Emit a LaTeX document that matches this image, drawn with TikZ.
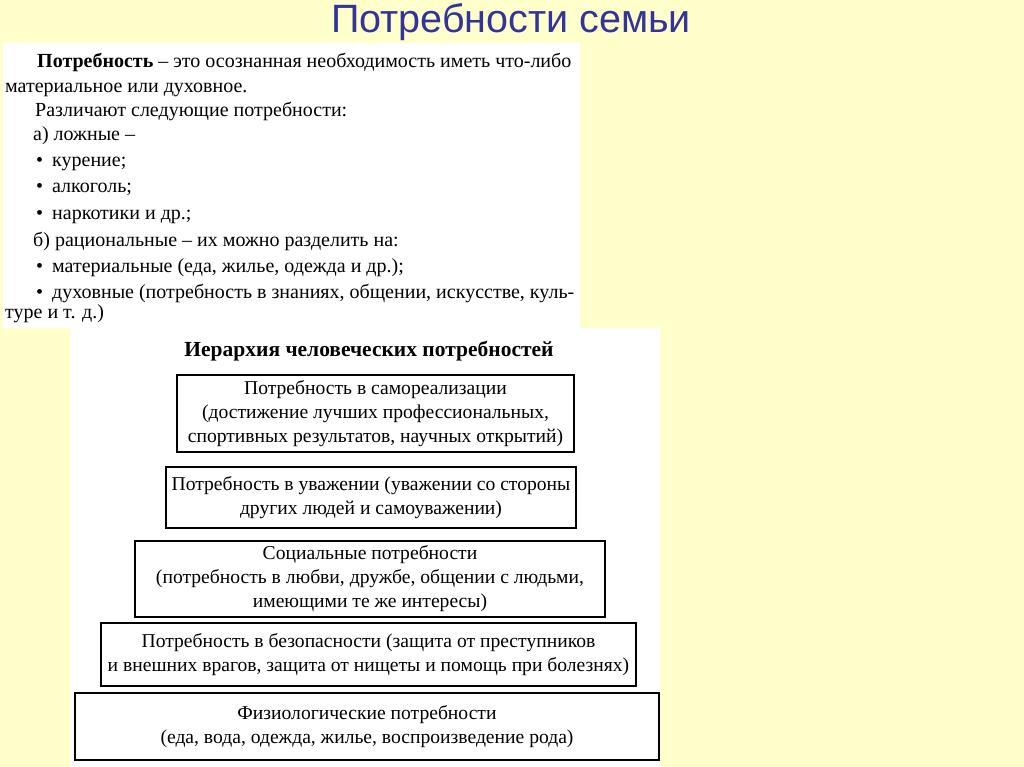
\documentclass[tikz,border=0pt]{standalone}
\usepackage{fontspec}
\setmainfont{Liberation Serif}
\newfontfamily\titlefont{Liberation Sans}
\usetikzlibrary{positioning}
\definecolor{slidebg}{HTML}{FFFFCC}
\definecolor{titleblue}{HTML}{333399}
\tikzstyle{txtline} = [anchor=base west, inner sep=0pt, font=\fontsize{20}{23}\selectfont]
\tikzstyle{needbox} = [draw=black, line width=1.5pt, align=center, inner sep=0pt, font=\fontsize{19.6}{24}\selectfont]
\newcommand{\bul}{\textbullet\hspace{9pt}}

\begin{document}
\begin{tikzpicture}[x=1pt,y=-1pt]
        \fill[slidebg] (0,0) rectangle (1024,767);
        \useasboundingbox (0,0) rectangle (1024,767);
        \node[font=\titlefont\fontsize{39.5}{42}\selectfont, text=titleblue] (title) at (511,22) {Потребности семьи};

        % definition panel
        \fill[white] (3,43) rectangle (580,328);
        \node[txtline] (def1) at (37,68) {\textbf{Потребность} – это осознанная необходимость иметь что-либо};
        \node[txtline] (def2) at (5,93) {материальное или духовное.};
        \node[txtline] (kinds) at (35,117) {Различают следующие потребности:};
        \node[txtline] (falsek) at (33,141) {а) ложные –};
        \node[txtline] (smoke) at (36,167) {\bul курение;};
        \node[txtline] (alco) at (36,193) {\bul алкоголь;};
        \node[txtline] (drugs) at (36,219) {\bul наркотики и др.;};
        \node[txtline] (ratio) at (33,246) {б) рациональные – их можно разделить на:};
        \node[txtline] (mater) at (36,272) {\bul материальные (еда, жилье, одежда и др.);};
        \node[txtline] (spirit) at (36,298) {\bul духовные (потребность в знаниях, общении, искусстве, куль-};
        \node[txtline] (spirit2) at (5,318) {туре и т. д.)};

        % hierarchy panel
        \fill[white] (70,328) rectangle (660,767);
        \node[font=\bfseries\fontsize{21.5}{24}\selectfont] (hier) at (369,351) {Иерархия человеческих потребностей};
        \node[needbox, minimum width=397pt, minimum height=77pt] (selfreal) at (375.5,413.5)
            {Потребность в самореализации\\(достижение лучших профессиональных,\\спортивных результатов, научных открытий)};
        \node[needbox, minimum width=410pt, minimum height=61pt] (respect) at (371,497.5)
            {Потребность в уважении (уважении со стороны\\других людей и самоуважении)};
        \node[needbox, minimum width=470pt, minimum height=76pt] (social) at (370,579)
            {Социальные потребности\\(потребность в любви, дружбе, общении с людьми,\\имеющими те же интересы)};
        \node[needbox, minimum width=535pt, minimum height=63pt] (safety) at (368.5,654.5)
            {Потребность в безопасности (защита от преступников\\и внешних врагов, защита от нищеты и помощь при болезнях)};
        \node[needbox, minimum width=584pt, minimum height=67pt] (physio) at (367,726.5)
            {Физиологические потребности\\(еда, вода, одежда, жилье, воспроизведение рода)};
\end{tikzpicture}
\end{document}
